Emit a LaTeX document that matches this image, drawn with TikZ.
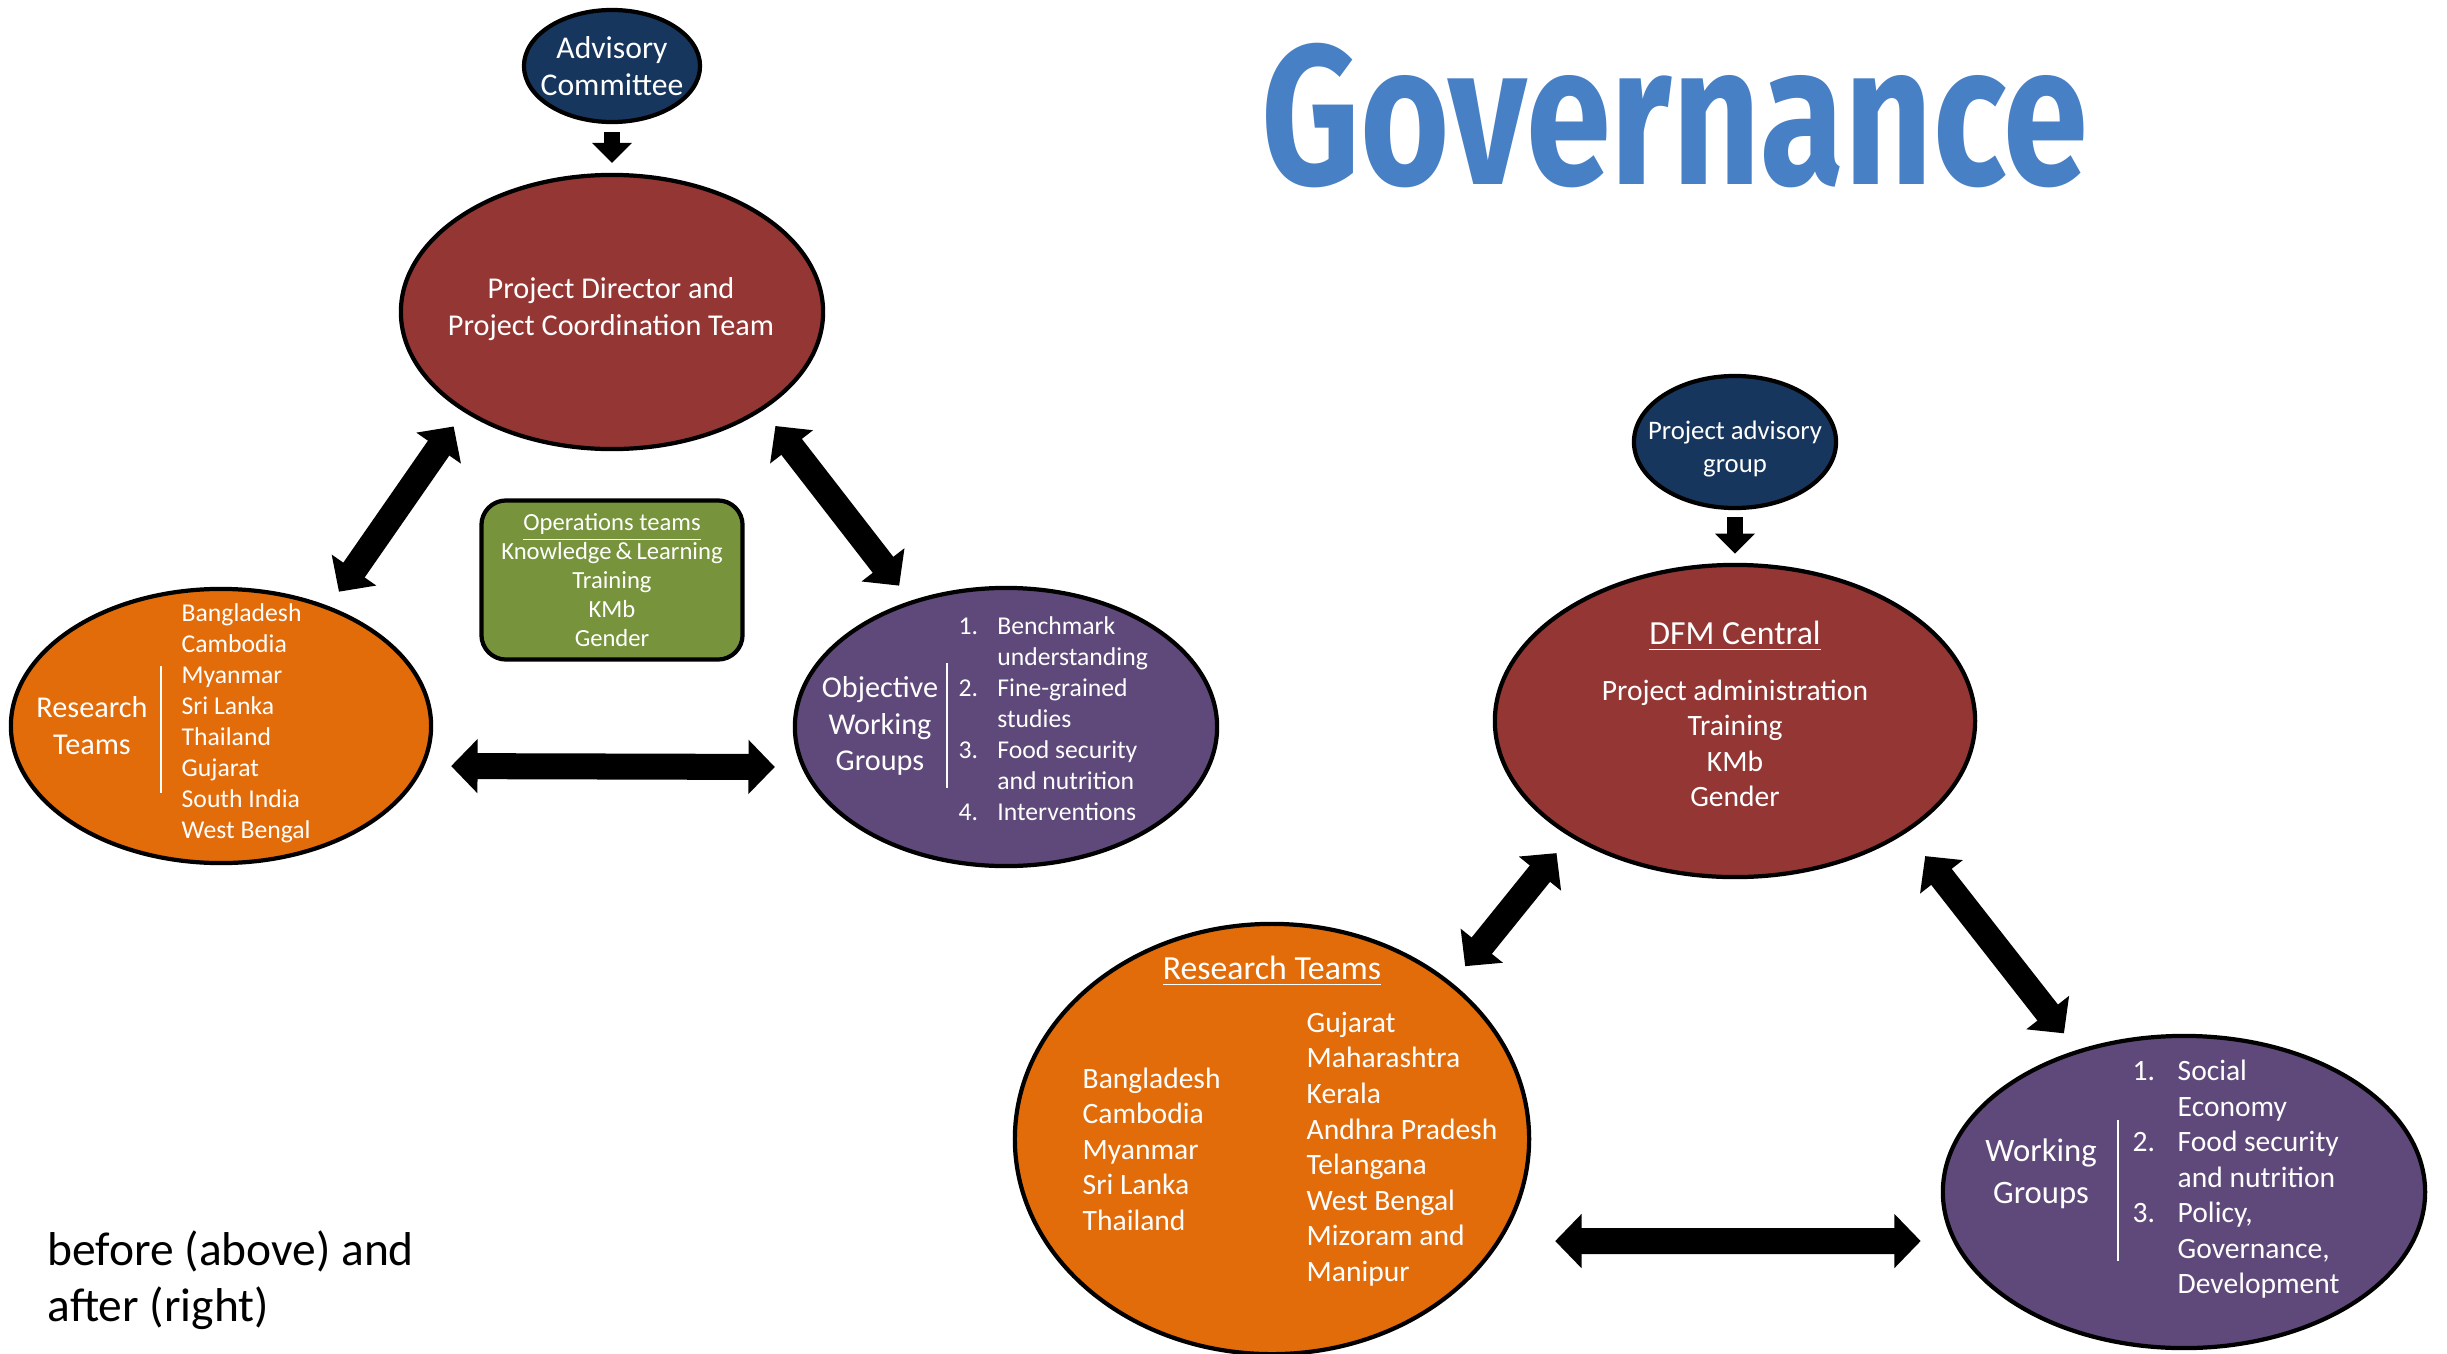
\documentclass[tikz,border=0pt]{standalone}
\usepackage{fontspec}
\setmainfont{Carlito}
\newfontfamily\titlefont{Fira Sans}
\usetikzlibrary{positioning,arrows.meta,shapes.geometric}

\definecolor{advblue}{RGB}{23,54,93}
\definecolor{dirred}{RGB}{148,54,52}
\definecolor{teamorange}{RGB}{227,108,10}
\definecolor{grouppurple}{RGB}{95,73,122}
\definecolor{opsgreen}{RGB}{119,147,60}
\definecolor{titleblue}{RGB}{72,128,198}

\newcommand\smalllist{\fontsize{7.3}{8.8}\selectfont}
\newcommand\midlabel{\fontsize{8.6}{10.5}\selectfont}
\newcommand\rightlist{\fontsize{8.4}{10.1}\selectfont}

\tikzset{
	blob/.style={ellipse, draw=black, line width=1.2pt, inner sep=0pt},
	txt/.style={text=white, align=center, inner sep=0pt},
	bigarrow/.style={line width=7.4pt, {Triangle[length=7.5pt,width=15pt]}-{Triangle[length=7.5pt,width=15pt]}},
	downarrow/.style={line width=4.3pt, -{Triangle[length=5.7pt,width=11pt]}},
	divider/.style={white, line width=0.6pt}
}

\begin{document}
\begin{tikzpicture}[x=0.01cm, y=-0.01cm]
	\useasboundingbox (0,0) rectangle (2447,1354);

	\node[blob, fill=advblue, minimum width=1.76cm, minimum height=1.12cm] (adv) at (612,66) {};
	\node[blob, fill=dirred, minimum width=4.22cm, minimum height=2.74cm] (pdir) at (612,312) {};
	\node[blob, fill=teamorange, minimum width=4.2cm, minimum height=2.74cm] (rteam) at (221,726) {};
	\node[blob, fill=grouppurple, minimum width=4.22cm, minimum height=2.78cm] (obj) at (1006,727) {};
	\node[txt, draw=black, line width=1.2pt, fill=opsgreen, rounded corners=7pt, minimum width=2.61cm, minimum height=1.59cm, font=\fontsize{7}{8.25}\selectfont] (ops) at (612,580) {\underline{Operations teams}\\Knowledge\,\&\,Learning\\Training\\KMb\\Gender};

	\node[txt, font=\fontsize{9}{10.6}\selectfont] (advtxt) at (adv.center) {Advisory\\Committee};
	\node[txt, font=\midlabel] (pdirtxt) at (611,309) {Project Director and\\Project Coordination Team};
	\node[txt, font=\midlabel] (rteamtxt) at (92,726) {Research\\Teams};
	\node[txt, align=left, anchor=west, font=\smalllist] (rteamlist) at (181,723) {Bangladesh\\Cambodia\\Myanmar\\Sri Lanka\\Thailand\\Gujarat\\South India\\West Bengal};
	\node[txt, font=\midlabel] (objtxt) at (880,726) {Objective\\Working\\Groups};
	\node[txt, anchor=west, font=\smalllist] (objlist) at (958,721) {\begin{tabular}{@{}p{11pt}@{}l@{}}1.&Benchmark\\&understanding\\2.&Fine-grained\\&studies\\3.&Food security\\&and nutrition\\4.&Interventions\end{tabular}};

	\draw[divider] (161,666) -- (161,793);
	\draw[divider] (947,663) -- (947,788);

	\draw[downarrow, shorten <=2.3pt, shorten >=2.8pt] (adv) -- (pdir);
	\draw[bigarrow, shorten <=5pt, shorten >=5pt] (pdir.214) -- (rteam.48);
	\draw[bigarrow, shorten <=5.7pt, shorten >=5.4pt] (pdir.327) -- (obj.127);
	\draw[bigarrow, shorten <=5.1pt, shorten >=5.1pt] ([yshift=-4mm]rteam.east) -- ([yshift=-4mm]obj.west);

	\node[text=titleblue, font=\titlefont\fontsize{56.6}{60}\bfseries\selectfont, anchor=base west, inner sep=0pt] (title) at (1261,184) {\scalebox{0.77}[1]{Governance}};

	\node[blob, fill=advblue, minimum width=2.02cm, minimum height=1.32cm] (pag) at (1735,442) {};
	\node[blob, fill=dirred, minimum width=4.8cm, minimum height=3.12cm] (dfm) at (1735,721) {};
	\node[blob, fill=teamorange, minimum width=5.14cm, minimum height=4.3cm] (rtwo) at (1272,1139) {};
	\node[blob, fill=grouppurple, minimum width=4.82cm, minimum height=3.12cm] (wg) at (2184,1192) {};

	\node[txt, font=\fontsize{7.6}{9.3}\selectfont] (pagtxt) at (1735,449) {Project advisory\\group};
	\node[txt, font=\rightlist] (dfmtxt) at (1735,714) {{\fontsize{9.6}{10.1}\selectfont\underline{DFM Central}}\\[5.8pt]Project administration\\Training\\KMb\\Gender};
	\node[txt, font=\fontsize{9.6}{11}\selectfont] (rtwotitle) at (1272,971) {\underline{Research Teams}};
	\node[txt, align=left, anchor=west, font=\rightlist] (rtwoleft) at (1082,1149) {Bangladesh\\Cambodia\\Myanmar\\Sri Lanka\\Thailand};
	\node[txt, align=left, anchor=west, font=\rightlist] (rtworight) at (1306,1149) {Gujarat\\Maharashtra\\Kerala\\Andhra Pradesh\\Telangana\\West Bengal\\Mizoram and\\Manipur};
	\node[txt, font=\fontsize{9.3}{12}\selectfont] (wgtxt) at (2041,1174) {Working\\Groups};
	\node[txt, anchor=west, font=\rightlist] (wglist) at (2132,1180) {\begin{tabular}{@{}p{12.8pt}@{}l@{}}1.&Social\\&Economy\\2.&Food security\\&and nutrition\\3.&Policy,\\&Governance,\\&Development\end{tabular}};

	\draw[divider] (2118,1120) -- (2118,1261);

	\draw[downarrow, shorten <=2pt, shorten >=2.6pt] (pag) -- (dfm);
	\draw[bigarrow, shorten <=6pt, shorten >=6pt] (dfm.215) -- (rtwo.41);
	\draw[bigarrow, shorten <=8.5pt, shorten >=6pt] (dfm.327) -- (wg.127);
	\draw[bigarrow, shorten <=6.8pt, shorten >=5.7pt] ([yshift=-10.2mm]rtwo.east) -- ([yshift=-4.9mm]wg.west);

	\node[anchor=west, align=left, inner sep=0pt, font=\fontsize{13.5}{16}\selectfont] (note) at (47,1280) {before (above) and\\after (right)};
\end{tikzpicture}
\end{document}
